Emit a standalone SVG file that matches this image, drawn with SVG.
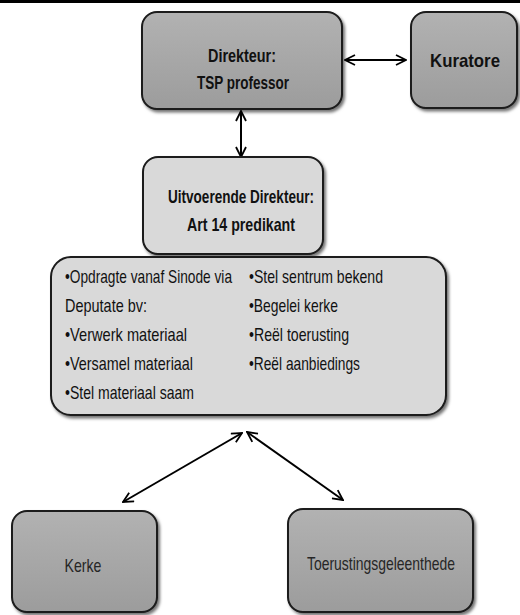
<svg xmlns="http://www.w3.org/2000/svg" width="520" height="615" viewBox="0 0 520 615">
<defs>
<linearGradient id="dark" x1="0" y1="0" x2="0" y2="1">
<stop offset="0" stop-color="#b2b2b2"/>
<stop offset="1" stop-color="#9c9c9c"/>
</linearGradient>
<filter id="sh" x="-10%" y="-10%" width="125%" height="130%">
<feDropShadow dx="2" dy="2.5" stdDeviation="1.5" flood-color="#000" flood-opacity="0.55"/>
</filter>
<marker id="ah" viewBox="0 0 12 12" refX="11" refY="6" markerWidth="12" markerHeight="12" markerUnits="userSpaceOnUse" orient="auto-start-reverse">
<path d="M1,1 L11,6 L1,11" fill="none" stroke="#000" stroke-width="1.8"/>
</marker>
<style>
.box{stroke:#1a1a1a;stroke-width:2;filter:url(#sh)}
.dk{fill:url(#dark)}
.lt{fill:#d9d9d9}
text{font-family:"Liberation Sans",Arial,sans-serif;font-size:18.5px;fill:#111}
.b{font-weight:bold;text-anchor:middle;font-size:19px}
.c{text-anchor:middle;fill:#262626}
.con{stroke:#000;stroke-width:2;fill:none;marker-start:url(#ah);marker-end:url(#ah)}
</style>
</defs>
<rect x="0" y="0" width="520" height="3" fill="#000"/>
<g id="connectors">
<line class="con" x1="345" y1="60" x2="406" y2="60"/>
<line class="con" x1="241" y1="111" x2="241" y2="157"/>
<line class="con" x1="242" y1="433" x2="123" y2="502"/>
<line class="con" x1="247" y1="432" x2="343" y2="500"/>
</g>
<g id="direkteur">
<rect class="box dk" x="142" y="12" width="200" height="97" rx="15"/>
<text class="b" x="242" y="62" textLength="68" lengthAdjust="spacingAndGlyphs">Direkteur:</text>
<text class="b" x="243" y="89" textLength="92" lengthAdjust="spacingAndGlyphs">TSP professor</text>
</g>
<g id="kuratore">
<rect class="box dk" x="411" y="12" width="106" height="96" rx="15"/>
<text class="b" x="465" y="67" textLength="70" lengthAdjust="spacingAndGlyphs">Kuratore</text>
</g>
<g id="uitvoerende">
<rect class="box lt" x="143" y="157" width="180" height="97" rx="15"/>
<text class="b" x="241" y="203" textLength="146" lengthAdjust="spacingAndGlyphs">Uitvoerende Direkteur:</text>
<text class="b" x="241" y="231" textLength="108" lengthAdjust="spacingAndGlyphs">Art 14 predikant</text>
</g>
<g id="take">
<rect class="box lt" x="51" y="257" width="395" height="158" rx="20"/>
<text x="65" y="283" textLength="167" lengthAdjust="spacingAndGlyphs">•Opdragte vanaf Sinode via</text>
<text x="65" y="312" textLength="82" lengthAdjust="spacingAndGlyphs">Deputate bv:</text>
<text x="65" y="341" textLength="122" lengthAdjust="spacingAndGlyphs">•Verwerk materiaal</text>
<text x="65" y="370" textLength="128" lengthAdjust="spacingAndGlyphs">•Versamel materiaal</text>
<text x="65" y="399" textLength="129" lengthAdjust="spacingAndGlyphs">•Stel materiaal saam</text>
<text x="249" y="283" textLength="134" lengthAdjust="spacingAndGlyphs">•Stel sentrum bekend</text>
<text x="249" y="312" textLength="89" lengthAdjust="spacingAndGlyphs">•Begelei kerke</text>
<text x="249" y="341" textLength="100" lengthAdjust="spacingAndGlyphs">•Reël toerusting</text>
<text x="249" y="370" textLength="111" lengthAdjust="spacingAndGlyphs">•Reël aanbiedings</text>
</g>
<g id="kerke">
<rect class="box dk" x="12" y="511" width="145" height="101" rx="15"/>
<text class="c" x="83" y="572" textLength="37" lengthAdjust="spacingAndGlyphs">Kerke</text>
</g>
<g id="toerusting">
<rect class="box dk" x="288" y="509" width="185" height="103" rx="15"/>
<text class="c" x="381" y="570" textLength="148" lengthAdjust="spacingAndGlyphs">Toerustingsgeleenthede</text>
</g>
</svg>
